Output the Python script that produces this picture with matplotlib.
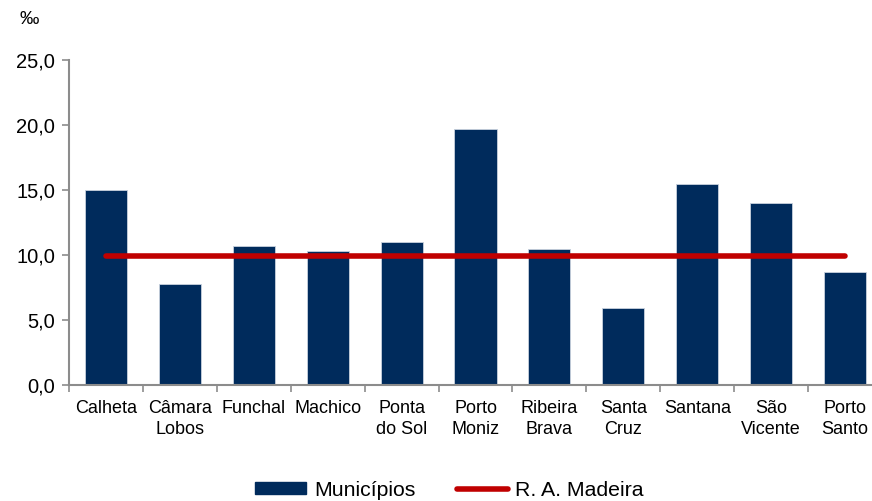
import matplotlib
matplotlib.use('Agg')
import matplotlib.pyplot as plt
from matplotlib.ticker import FuncFormatter, FixedLocator
from matplotlib.patches import Patch
from matplotlib.lines import Line2D

plt.rcParams['font.family'] = ['Liberation Sans', 'DejaVu Sans']

municipios = ['Calheta', 'Câmara\nLobos', 'Funchal', 'Machico', 'Ponta\ndo Sol',
              'Porto\nMoniz', 'Ribeira\nBrava', 'Santa\nCruz', 'Santana',
              'São\nVicente', 'Porto\nSanto']
valores = [15.0, 7.8, 10.7, 10.3, 11.0, 19.7, 10.5, 5.9, 15.5, 14.0, 8.7]
madeira = [9.9] * len(municipios)

navy = '#002B5C'
red = '#C00000'
grey = '#8C8C8C'

fig = plt.figure(figsize=(8.72, 5.01), dpi=100)
ax = fig.add_axes([69 / 872, 116 / 501, 813 / 872, 325 / 501])

x = list(range(len(municipios)))
ax.bar(x, valores, width=0.57, color=navy, edgecolor='#C8D2DE', linewidth=0.6, zorder=2)
ax.plot(x, madeira, color=red, linewidth=4, solid_capstyle='round', zorder=3)

ax.set_xlim(-0.5, len(municipios) - 0.5)
ax.set_ylim(0, 25)
ax.set_yticks([0, 5, 10, 15, 20, 25])
ax.yaxis.set_major_formatter(FuncFormatter(lambda v, p: '{:.1f}'.format(v).replace('.', ',')))

# category labels centered, ticks at category boundaries
ax.set_xticks(x)
ax.set_xticklabels(municipios, fontsize=13, linespacing=1.25)
ax.tick_params(axis='x', which='major', length=0, pad=11)
ax.xaxis.set_minor_locator(FixedLocator([i - 0.5 for i in range(len(municipios) + 1)]))
ax.tick_params(axis='x', which='minor', length=5, width=1.2, color=grey, direction='out')
ax.tick_params(axis='y', labelsize=14.5, length=5, width=1.2, color=grey, pad=5)

for s in ['top', 'right']:
    ax.spines[s].set_visible(False)
for s in ['left', 'bottom']:
    ax.spines[s].set_color(grey)
    ax.spines[s].set_linewidth(1.5)

fig.text(19 / 872, 1 - 19 / 501, '‰', fontsize=14, va='center', ha='left')

handles = [Patch(facecolor=navy, edgecolor=navy),
           Line2D([0], [0], color=red, linewidth=4, solid_capstyle='round')]
fig.legend(handles, ['Municípios', 'R. A. Madeira'], loc='center',
           bbox_to_anchor=(449.5 / 872, 1 - 490 / 501), ncol=2, frameon=False,
           fontsize=15.3, handlelength=2.4, handleheight=0.5, handletextpad=0.35,
           columnspacing=1.95)

fig.savefig('out.png', dpi=100)
